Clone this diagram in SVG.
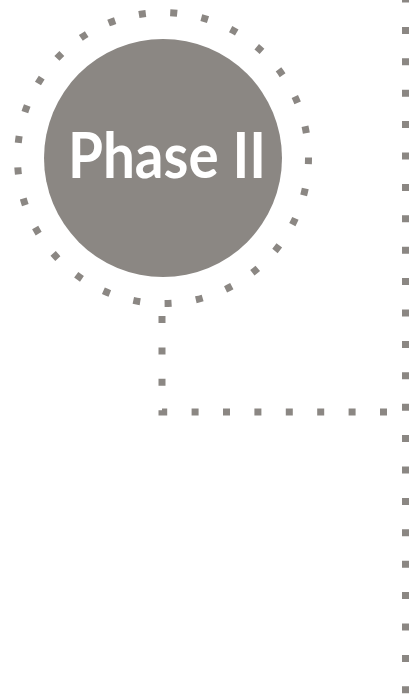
<svg xmlns="http://www.w3.org/2000/svg" width="409" height="698" viewBox="0 0 409 698">
  <style>
    .dots { fill: none; stroke: #8b8783; stroke-width: 7; stroke-linecap: butt; stroke-linejoin: miter; }
    .label { font-family: Lato, "Open Sans", "Liberation Sans", sans-serif; font-weight: bold; font-size: 63px; fill: #ffffff; }
  </style>
  <rect width="409" height="698" fill="#ffffff"/>
  <g id="phase2">
    <circle cx="163" cy="158" r="145.5" class="dots" stroke-dasharray="7 24.52" stroke-dashoffset="0.8"/>
    <circle cx="163" cy="158" r="119" fill="#8b8783"/>
    <text x="68" y="178" class="label" textLength="198" lengthAdjust="spacingAndGlyphs">Phase II</text>
  </g>
  <g id="connectors">
    <path class="dots" d="M162 316 V412 H392" stroke-dasharray="7 24.4"/>
    <path class="dots" d="M405.5 -4.5 V698" stroke-dasharray="7 24.4"/>
  </g>
</svg>
